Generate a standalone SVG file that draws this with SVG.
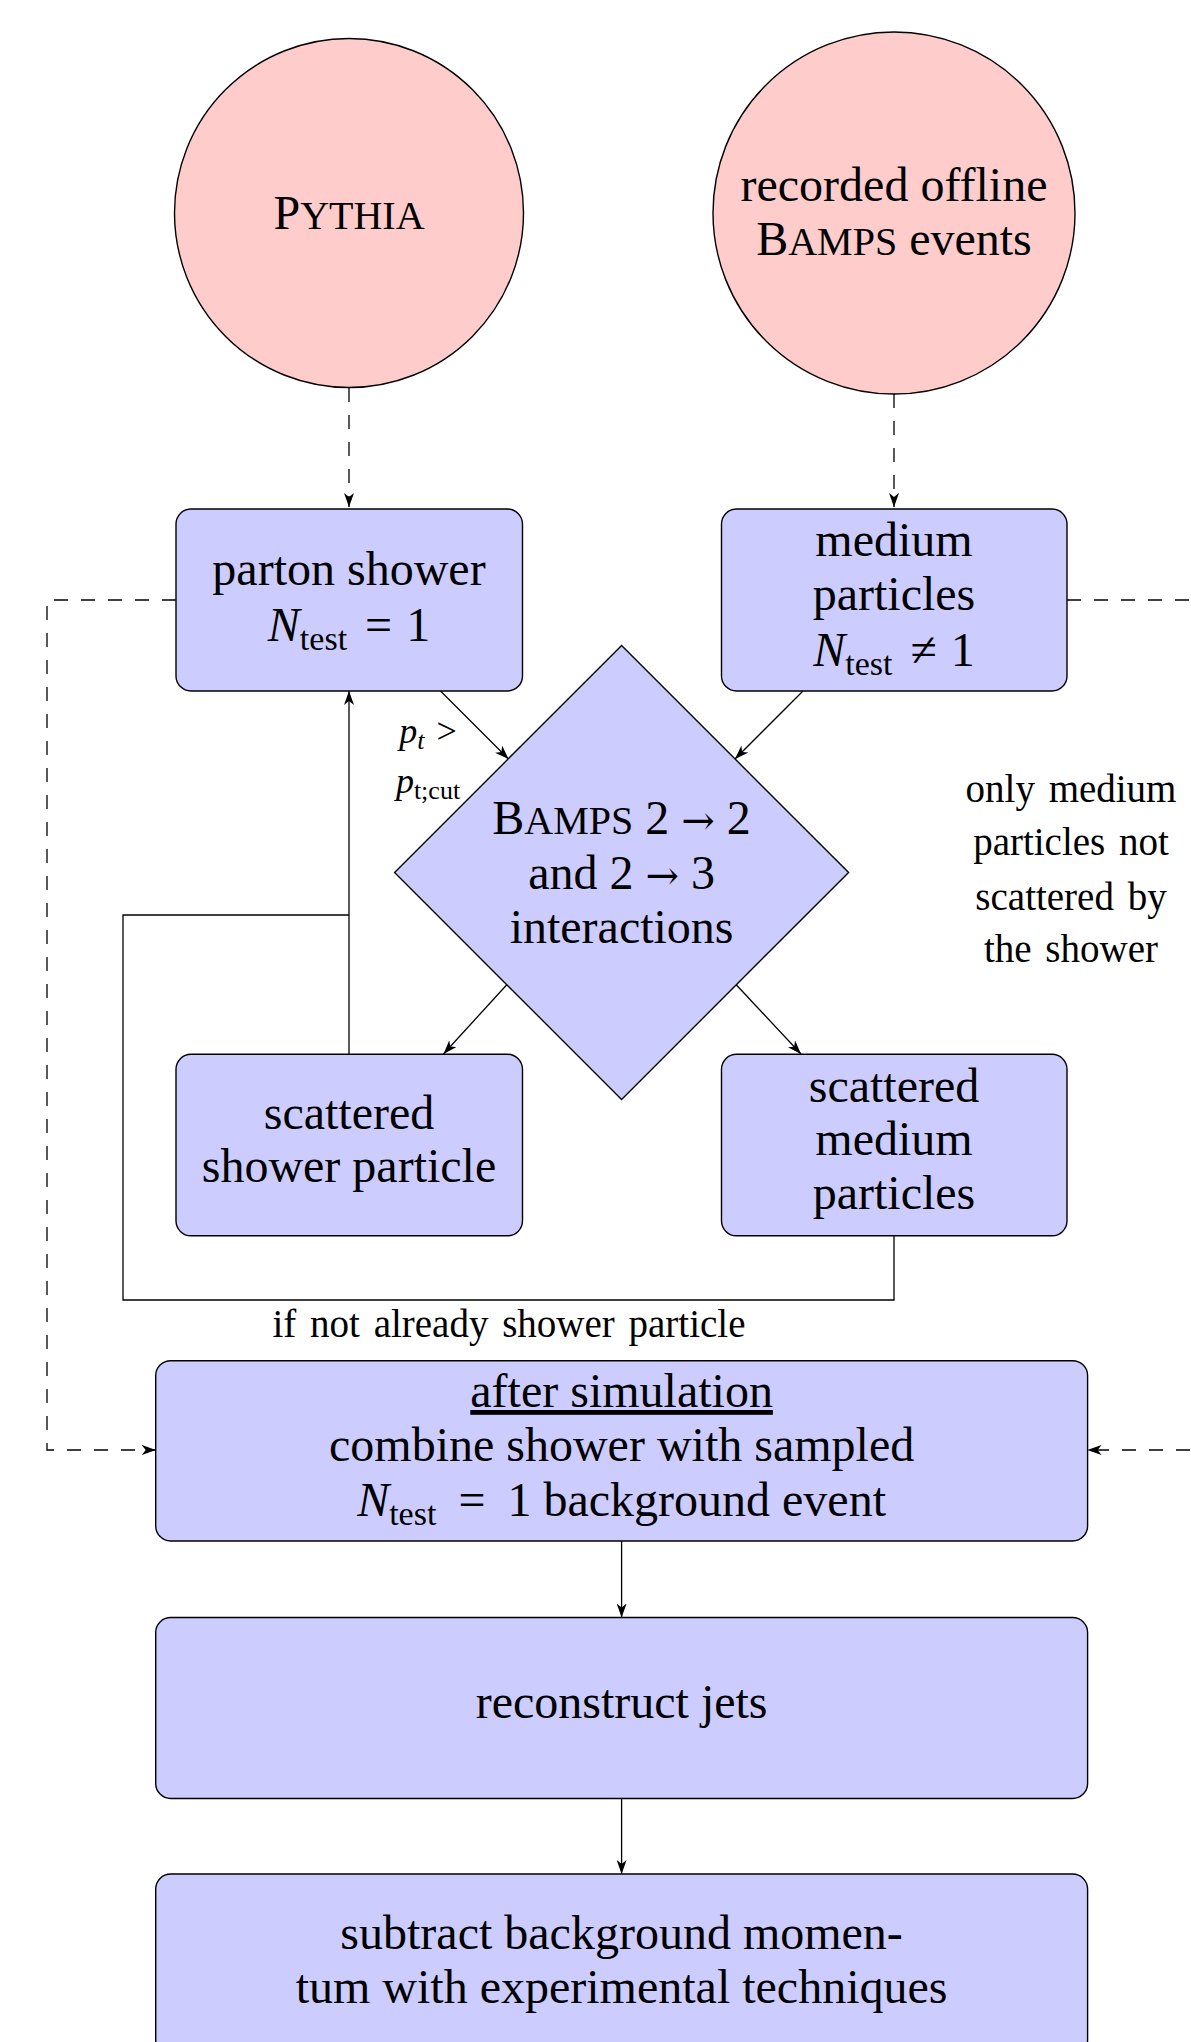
<svg xmlns="http://www.w3.org/2000/svg" width="1191" height="2042" viewBox="0 0 1191 2042">
<defs>
<marker id="arr" markerUnits="userSpaceOnUse" markerWidth="14" markerHeight="10" refX="14" refY="5" orient="auto" viewBox="0 0 14 10"><path d="M0,0 L14,5 L0,10 L4,5 Z" fill="#000"/></marker>
</defs>
<style>
.src{fill:#ffcccc;stroke:#000;stroke-width:1.4}
.box{fill:#ccccff;stroke:#000;stroke-width:1.4}
.t{font-family:'Liberation Serif',serif;font-size:48px;fill:#000;text-anchor:middle}
.s{font-family:'Liberation Serif',serif;font-size:39px;fill:#000;text-anchor:middle;word-spacing:4px}
.m{font-family:'Liberation Serif',serif;font-size:36px;fill:#000;text-anchor:middle}
.c{fill:none;stroke:#000;stroke-width:1.3}
.d{stroke-dasharray:14 13}
.sm{font-size:40px}
.ar{font-family:'DejaVu Serif',serif;font-size:40px}
.it{font-style:italic}
</style>
<rect width="1191" height="2042" fill="#fff"/>

<g id="connectors">
<path class="c d" d="M349,388 V507" marker-end="url(#arr)"/>
<path class="c d" d="M894,394 V507" marker-end="url(#arr)"/>
<path class="c d" d="M176,600 H47 V1450 H155.7" marker-end="url(#arr)"/>
<path class="c d" d="M1067,600 H1230 V1450 H1087.6" marker-end="url(#arr)"/>
<path class="c" d="M440.5,691 L508.5,759" marker-end="url(#arr)"/>
<path class="c" d="M803,691 L735,759" marker-end="url(#arr)"/>
<path class="c" d="M507,984.5 L443.5,1054" marker-end="url(#arr)"/>
<path class="c" d="M736,984.5 L801,1054" marker-end="url(#arr)"/>
<path class="c" d="M349,1054 V691" marker-end="url(#arr)"/>
<path class="c" d="M894,1236 V1300 H123 V915 H349"/>
<path class="c" d="M621.6,1541 V1617.5" marker-end="url(#arr)"/>
<path class="c" d="M621.6,1798.5 V1874" marker-end="url(#arr)"/>
</g>

<g id="label-ptcut">
<text class="m" x="428" y="743"><tspan class="it">p</tspan><tspan class="it" font-size="26" dy="6">t</tspan><tspan dy="-6" dx="12">&gt;</tspan></text>
<text class="m" x="428" y="793"><tspan class="it">p</tspan><tspan font-size="26" dy="6">t;cut</tspan></text>
</g>

<g id="pythia">
<circle class="src" cx="349" cy="213" r="174.5"/>
<text class="t" x="349" y="229">P<tspan class="sm">YTHIA</tspan></text>
</g>

<g id="bamps-events">
<circle class="src" cx="894" cy="213" r="181"/>
<text class="t" x="894" y="201">recorded offline</text>
<text class="t" x="894" y="255">B<tspan class="sm">AMPS</tspan> events</text>
</g>

<g id="parton-shower">
<rect class="box" x="176" y="509" width="346.5" height="182" rx="15"/>
<text class="t" x="349" y="585">parton shower</text>
<text class="t" x="349" y="641"><tspan class="it">N</tspan><tspan font-size="34" dy="9">test</tspan><tspan dy="-9" dx="18">=</tspan><tspan dx="14">1</tspan></text>
</g>

<g id="medium-particles">
<rect class="box" x="721.5" y="509" width="345.5" height="182" rx="15"/>
<text class="t" x="894" y="556">medium</text>
<text class="t" x="894" y="610">particles</text>
<text class="t" x="894" y="666"><tspan class="it">N</tspan><tspan font-size="34" dy="9">test</tspan><tspan dy="-9" dx="18">≠</tspan><tspan dx="14">1</tspan></text>
</g>

<g id="bamps-interactions">
<polygon class="box" points="621.6,645.5 848.6,872.5 621.6,1099.5 394.6,872.5"/>
<text class="t" x="621.6" y="834">B<tspan class="sm">AMPS</tspan> 2 <tspan class="ar">→</tspan> 2</text>
<text class="t" x="621.6" y="889">and 2 <tspan class="ar">→</tspan> 3</text>
<text class="t" x="621.6" y="943">interactions</text>
</g>

<g id="note-medium">
<text class="s" x="1071" y="802">only medium</text>
<text class="s" x="1071" y="855">particles not</text>
<text class="s" x="1071" y="910">scattered by</text>
<text class="s" x="1071" y="962">the shower</text>
</g>

<g id="scattered-shower">
<rect class="box" x="176" y="1054.3" width="346.5" height="181.5" rx="15"/>
<text class="t" x="349" y="1129">scattered</text>
<text class="t" x="349" y="1182">shower particle</text>
</g>

<g id="scattered-medium">
<rect class="box" x="721.5" y="1054.3" width="345.5" height="181.5" rx="15"/>
<text class="t" x="894" y="1102">scattered</text>
<text class="t" x="894" y="1155">medium</text>
<text class="t" x="894" y="1209">particles</text>
</g>

<g id="note-not-shower">
<text class="s" x="509" y="1337">if not already shower particle</text>
</g>

<g id="after-simulation">
<rect class="box" x="155.7" y="1360.7" width="931.9" height="180.3" rx="15"/>
<text class="t" x="621.6" y="1407" text-decoration="underline">after simulation</text>
<text class="t" x="621.6" y="1461">combine shower with sampled</text>
<text class="t" x="621.6" y="1516"><tspan class="it">N</tspan><tspan font-size="34" dy="9">test</tspan><tspan dy="-9" dx="22">=</tspan><tspan dx="22">1 background event</tspan></text>
</g>

<g id="reconstruct-jets">
<rect class="box" x="155.7" y="1617.5" width="931.9" height="181" rx="15"/>
<text class="t" x="621.6" y="1718">reconstruct jets</text>
</g>

<g id="subtract-background">
<rect class="box" x="155.7" y="1874" width="931.9" height="181" rx="15"/>
<text class="t" x="621.6" y="1949">subtract background momen-</text>
<text class="t" x="621.6" y="2003">tum with experimental techniques</text>
</g>
</svg>
